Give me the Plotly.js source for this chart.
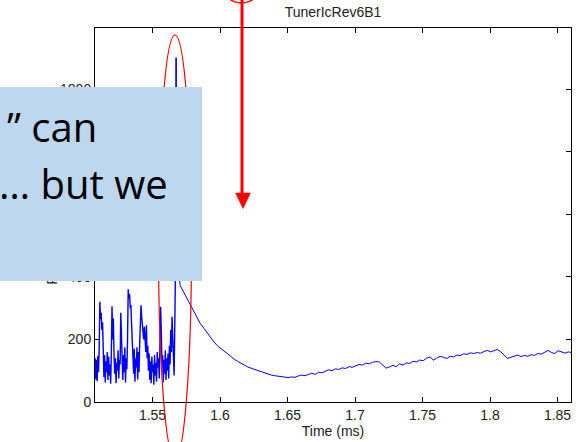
<!DOCTYPE html>
<html>
<head>
<meta charset="utf-8">
<script src="https://cdn.plot.ly/plotly-3.0.1.min.js"></script>
<style>html,body{margin:0;padding:0;background:#fff;}#chart{width:581px;height:442px;}</style>
</head>
<body>
<div id="chart"></div>
<script>
// ---- data ----
const chartTitle = "TunerIcRev6B1";
const xTitle = "Time (ms)";
const yTitle = "Reflected Power (a.u.)";
const xTickVals = [1.55, 1.6, 1.65, 1.7, 1.75, 1.8, 1.85];
const xTickLabels = ["1.55", "1.6", "1.65", "1.7", "1.75", "1.8", "1.85"];
const yTickVals = [0, 200, 400, 600, 800, 1000];
const yTickLabels = ["0", "200", "400", "600", "800", "1000"];

// noisy segment, sampled every 0.0005 ms from 1.5075 ms
const noiseStart = 1.5075, noiseStep = 0.0005;
const noiseValues = [
140, 72, 135, 66, 148, 95, 170, 320, 265, 285,
230, 255, 170, 80, 150, 62, 130, 95, 160, 70,
145, 85, 120, 58, 155, 306, 200, 267, 150, 90,
140, 60, 125, 100, 165, 75, 135, 120, 285, 180,
130, 70, 150, 95, 175, 62, 140, 105, 200, 360,
330, 345, 300, 310, 250, 207, 150, 90, 170, 65,
140, 110, 175, 72, 160, 95, 185, 230, 309, 270,
250, 229, 200, 240, 175, 160, 245, 140, 180, 100,
155, 70, 130, 60, 145, 95, 120, 55, 150, 85,
125, 65, 160, 110, 140, 75, 180, 304, 230, 120,
150, 62, 135, 90, 165, 70, 140, 100, 155, 75,
180, 120, 230, 160, 272, 200, 150, 85, 240, 420,
1100];

// decay / recovery segment, sampled every 0.0025 ms from 1.568 ms
const decayStart = 1.568, decayStep = 0.0025;
const decayValues = [
470, 372, 352, 330, 308, 290, 268, 250, 236, 220,
205, 192, 180, 171, 162, 152, 145, 137, 130, 124,
117, 112, 108, 104, 100, 96, 92, 89, 86, 84,
82, 80, 79, 78, 80, 79, 83, 86, 84, 89,
92, 88, 95, 93, 99, 103, 100, 106, 104, 109,
107, 113, 111, 116, 120, 118, 124, 122, 127, 129,
128, 118, 108, 112, 117, 113, 122, 118, 125, 123,
130, 128, 134, 132, 140, 144, 134, 140, 146, 143,
139, 146, 144, 150, 148, 154, 152, 157, 155, 158,
156, 161, 165, 160, 163, 168, 160, 148, 139, 143,
146, 150, 145, 149, 146, 151, 149, 155, 153, 160,
165, 158, 155, 164, 161, 156, 160, 158];

const boxLine1 = "\u201D can";
const boxLine2 = "\u2026 but we";

// ---- build traces ----
const tN = noiseValues.map((_, i) => noiseStart + i * noiseStep);
const tD = decayValues.map((_, i) => decayStart + i * decayStep);
const lastN = noiseValues.length - 1;

// ---- layout geometry ----
const W = 581, H = 442, ML = 95, MR = 10, MT = 28, MB = 40;
const PW = W - ML - MR, PH = H - MT - MB;
const px = p => (p - ML) / PW;
const py = p => (H - MB - p) / PH;

const axisFont = {family: "Liberation Sans, Arial, sans-serif", size: 14, color: "#222"};
const boxFont = {family: "Open Sans, Noto Sans, sans-serif", size: 40, color: "#000"};

const layout = {
  width: W, height: H,
  margin: {l: ML, r: MR, t: MT, b: MB, pad: 0},
  paper_bgcolor: "#fff", plot_bgcolor: "#fff",
  showlegend: false,
  title: {text: chartTitle, x: 0.5, xref: "paper", xanchor: "center",
          y: 1 - 12 / H, yref: "container", yanchor: "middle",
          font: {family: "Liberation Sans, Arial, sans-serif", size: 14, color: "#222"}},
  xaxis: {
    range: [1.5074, 1.8600], tickmode: "array", tickvals: xTickVals, ticktext: xTickLabels,
    ticks: "inside", ticklen: 5, tickcolor: "#000", tickwidth: 1,
    showline: true, linecolor: "#000", linewidth: 1, mirror: "ticks",
    showgrid: false, zeroline: false, tickfont: axisFont,
    title: {text: xTitle, font: axisFont, standoff: 4}, automargin: false
  },
  yaxis: {
    range: [0, 1195], tickmode: "array", tickvals: yTickVals, ticktext: yTickLabels,
    ticks: "inside", ticklen: 5, tickcolor: "#000", tickwidth: 1,
    showline: true, linecolor: "#000", linewidth: 1, mirror: "ticks",
    showgrid: false, zeroline: false, tickfont: axisFont,
    title: {text: yTitle, font: axisFont}, automargin: false
  },
  shapes: [
    {type: "circle", xref: "paper", yref: "paper", layer: "above",
     x0: px(158.5), x1: px(191.5), y0: py(459), y1: py(35),
     line: {color: "#ff0000", width: 1.2}},
    {type: "circle", xref: "paper", yref: "paper", layer: "above",
     x0: px(228), x1: px(255), y0: py(3), y1: py(-13),
     line: {color: "#ff0000", width: 1.5}},
    {type: "line", xref: "paper", yref: "paper", layer: "above",
     x0: px(242), x1: px(242), y0: py(-5), y1: py(196),
     line: {color: "#ff0000", width: 3}},
    {type: "path", xref: "paper", yref: "paper", layer: "above",
     path: `M ${px(235.5)} ${py(193)} L ${px(250.5)} ${py(193)} L ${px(243)} ${py(208.5)} Z`,
     fillcolor: "#ff0000", line: {color: "#ff0000", width: 0.5}}
  ],
  annotations: [
    {xref: "paper", yref: "paper", x: px(-10), y: py(87), xanchor: "left", yanchor: "top",
     text: " ", width: 212, height: 194, bgcolor: "#BDD7EE", borderwidth: 0, borderpad: 0,
     showarrow: false},
    {xref: "paper", yref: "paper", x: px(98.5), y: py(127), xanchor: "right", yanchor: "middle",
     text: boxLine1, showarrow: false, font: boxFont},
    {xref: "paper", yref: "paper", x: px(169.5), y: py(183), xanchor: "right", yanchor: "middle",
     text: boxLine2, showarrow: false, font: boxFont}
  ]
};

const traces = [
  {x: tN, y: noiseValues, type: "scatter", mode: "lines",
   line: {color: "#0000ff", width: 1.4}, hoverinfo: "skip"},
  {x: [tN[lastN]].concat(tD), y: [noiseValues[lastN]].concat(decayValues), type: "scatter", mode: "lines",
   line: {color: "#0000ff", width: 1}, hoverinfo: "skip"}
];

Plotly.newPlot("chart", traces, layout, {staticPlot: true, displayModeBar: false});
</script>
</body>
</html>
